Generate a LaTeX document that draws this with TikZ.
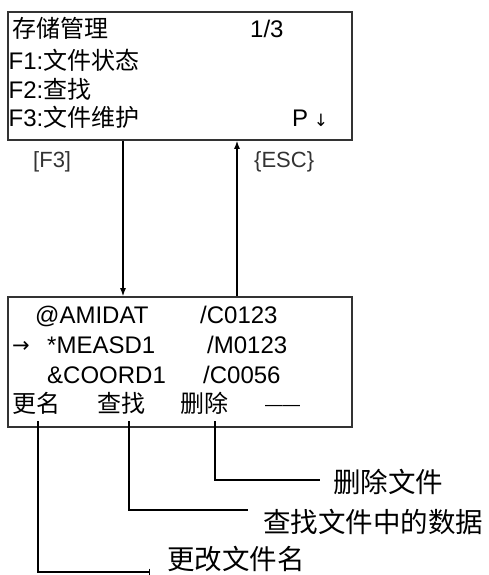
\documentclass[tikz,border=0pt]{standalone}
\usepackage{fontspec}
\setmainfont{Liberation Sans}
\newfontfamily\cjk{Noto Sans CJK SC}
\newfontfamily\symf{DejaVu Sans}
\usetikzlibrary{arrows.meta}
\begin{document}
\begin{tikzpicture}[x=1pt,y=-1pt,
  screen/.style={draw=black!80,line width=1.6pt,minimum width=344pt,inner sep=0pt,fill=white},
  txt/.style={inner sep=0pt,anchor=base west,font=\fontsize{24}{28}\selectfont},
  lbl/.style={inner sep=0pt,anchor=base west,font=\fontsize{22}{26}\selectfont,text=black!80},
  note/.style={inner sep=0pt,anchor=west,font=\cjk\fontsize{27.5}{32}\selectfont},
  arr/.style={line width=1.4pt,-{Latex[length=8pt,width=6pt]}},
  lead/.style={line width=1.4pt}]
\useasboundingbox (0,0) rectangle (488,575);
\fill[white] (0,0) rectangle (488,575);
% screens
\node[screen,minimum height=128pt] (top) at (180,76) {};
\node[screen,minimum height=130pt] (bot) at (180,362) {};
% top screen texts
\node[txt] (t1) at (12,38) {\cjk 存储管理};
\node[txt] (pg) at (250,38) {1/3};
\node[txt] (f1) at (8.5,70) {F1:{\cjk 文件状态}};
\node[txt] (f2) at (8.5,99) {F2:{\cjk 查找}};
\node[txt] (f3) at (8.5,127) {F3:{\cjk 文件维护}};
\node[txt] (pp) at (292,127) {P};
\node[inner sep=0pt,anchor=base,font=\symf\fontsize{17}{20}\selectfont] (pd) at (321,126) {↓};
% key labels
\node[lbl] (kf3) at (33,167) {[F3]};
\node[lbl] (kesc) at (254,167) {\{ESC\}};
% connectors between screens
\coordinate (xa) at (123,0);
\coordinate (xb) at (237,0);
\draw[arr] (top.south -| xa) -- (bot.north -| xa);
\draw[arr] (bot.north -| xb) -- (top.south -| xb);
% bottom screen texts
\node[txt] (r1a) at (35,323) {@AMIDAT};
\node[txt] (r1b) at (200,323) {/C0123};
\node[inner sep=0pt,anchor=base west,font=\symf\fontsize{21}{24}\selectfont] (cur) at (12,352) {→};
\node[txt] (r2a) at (47,353) {*MEASD1};
\node[txt] (r2b) at (207,353) {/M0123};
\node[txt] (r3a) at (47,383) {\&COORD1};
\node[txt] (r3b) at (203,383) {/C0056};
\node[txt] (gm) at (12,412) {\cjk 更名};
\node[txt] (cz) at (97,412) {\cjk 查找};
\node[txt] (sc) at (180,412) {\cjk 删除};
\node[inner sep=0pt,anchor=base,font=\fontsize{17.5}{20}\selectfont] (dash) at (282.5,410) {——};
% leaders
\coordinate (s1) at (38,421);
\coordinate (s2) at (129,421);
\coordinate (s3) at (215,421);
\coordinate (e1) at (150,572);
\coordinate (e2) at (248,510);
\coordinate (e3) at (320,480);
\draw[lead] (s3) |- (e3);
\draw[lead] (s2) |- (e2);
\draw[lead,-{Bar[width=7pt,line width=1.4pt]}] (s1) |- (e1);
\node[note] (n3) at (333,482) {删除文件};
\node[note] (n2) at (263,522) {查找文件中的数据};
\node[note] (n1) at (167,559) {更改文件名};
\end{tikzpicture}
\end{document}
